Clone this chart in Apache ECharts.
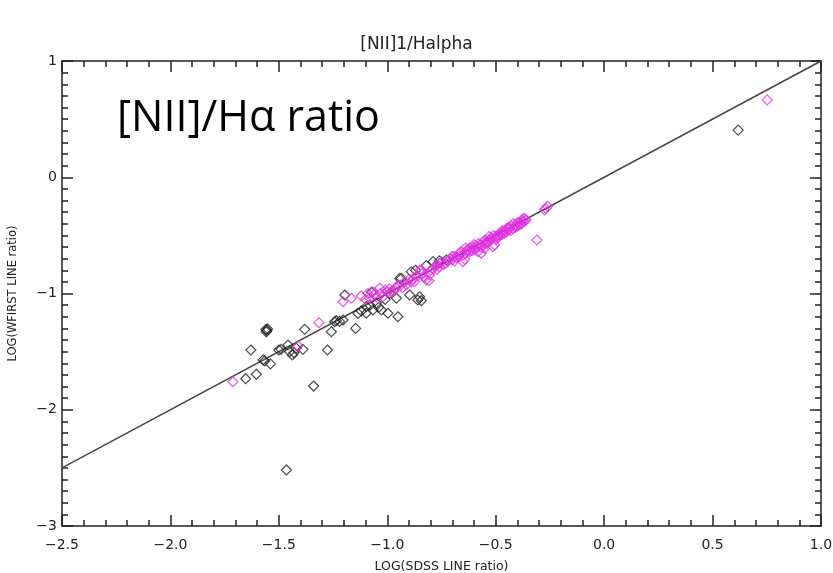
<!DOCTYPE html>
<html>
<head>
<meta charset="utf-8">
<script src="https://cdn.jsdelivr.net/npm/echarts@6/dist/echarts.min.js"></script>
<style>
  html, body { margin: 0; padding: 0; background: #fff; }
  #main { width: 833px; height: 573px; }
</style>
</head>
<body>
<div id="main"></div>
<script>
// log line ratios: [SDSS, WFIRST]
const blackPts = [
  [-1.653, -1.733], [-1.629, -1.486], [-1.604, -1.695], [-1.573, -1.572], [-1.565, -1.58],
  [-1.56, -1.31], [-1.555, -1.32], [-1.552, -1.305], [-1.558, -1.33], [-1.539, -1.606],
  [-1.50, -1.486], [-1.49, -1.48], [-1.465, -2.518], [-1.458, -1.443], [-1.45, -1.50],
  [-1.438, -1.529], [-1.43, -1.51], [-1.42, -1.47], [-1.389, -1.48], [-1.381, -1.308],
  [-1.34, -1.796], [-1.276, -1.486], [-1.258, -1.329], [-1.243, -1.243], [-1.235, -1.234],
  [-1.22, -1.24], [-1.204, -1.228], [-1.196, -1.013], [-1.146, -1.30], [-1.135, -1.171],
  [-1.12, -1.15], [-1.097, -1.17], [-1.097, -1.113], [-1.08, -1.10], [-1.073, -0.99],
  [-1.066, -1.142], [-1.05, -1.08], [-1.04, -1.12], [-1.027, -1.142], [-1.01, -1.05],
  [-0.997, -1.17], [-0.989, -0.998], [-0.958, -1.041], [-0.951, -1.20], [-0.943, -0.87],
  [-0.935, -0.87], [-0.897, -1.013], [-0.889, -0.812], [-0.87, -0.80], [-0.859, -1.056],
  [-0.851, -1.028], [-0.843, -1.062], [-0.82, -0.76], [-0.789, -0.726], [-0.76, -0.72],
  [-0.728, -0.712], [0.618, 0.406]
]
const magentaPts = [
  [-1.712, -1.759], [-1.412, -1.452], [-1.315, -1.251], [-1.204, -1.071], [-1.166, -1.041],
  [-1.12, -1.02], [-1.10, -1.05], [-1.09, -1.00], [-1.066, -0.985], [-1.05, -1.03],
  [-1.035, -0.955], [-1.02, -1.028], [-1.00, -0.99], [-0.981, -0.985], [-0.96, -0.95],
  [-0.94, -0.93], [-0.912, -0.927], [-0.89, -0.90], [-0.874, -0.898], [-0.851, -0.798],
  [-0.843, -0.80], [-0.82, -0.884], [-0.808, -0.89], [-0.805, -0.841], [-0.79, -0.79],
  [-0.774, -0.755], [-0.76, -0.77], [-0.74, -0.75], [-0.72, -0.72], [-0.70, -0.71],
  [-0.69, -0.68], [-0.68, -0.69], [-0.67, -0.66], [-0.651, -0.726], [-0.643, -0.706],
  [-0.64, -0.65], [-0.63, -0.62], [-0.62, -0.64], [-0.605, -0.60], [-0.60, -0.62],
  [-0.59, -0.59], [-0.582, -0.64], [-0.57, -0.58], [-0.566, -0.654], [-0.56, -0.56],
  [-0.55, -0.57], [-0.551, -0.611], [-0.54, -0.55], [-0.53, -0.54], [-0.52, -0.52],
  [-0.513, -0.597], [-0.505, -0.583], [-0.50, -0.51], [-0.49, -0.50], [-0.48, -0.48],
  [-0.47, -0.49], [-0.46, -0.46], [-0.45, -0.47], [-0.44, -0.45], [-0.43, -0.42],
  [-0.42, -0.44], [-0.41, -0.41], [-0.40, -0.42], [-0.39, -0.39], [-0.38, -0.40],
  [-0.371, -0.353], [-0.36, -0.37], [-0.31, -0.54], [-0.275, -0.28], [-0.27, -0.267],
  [-0.26, -0.25], [0.752, 0.665],
  // dense band along the 1:1 line
  [-1.08, -1.04], [-1.06, -1.01], [-1.03, -1.00], [-1.01, -0.97], [-0.99, -0.96],
  [-0.97, -0.98], [-0.95, -0.93], [-0.93, -0.95], [-0.92, -0.90], [-0.90, -0.88],
  [-0.88, -0.87], [-0.86, -0.85], [-0.84, -0.83], [-0.83, -0.86], [-0.80, -0.80],
  [-0.78, -0.77], [-0.77, -0.79], [-0.75, -0.73], [-0.73, -0.74], [-0.71, -0.70],
  [-0.70, -0.68], [-0.67, -0.68], [-0.66, -0.64], [-0.65, -0.67], [-0.63, -0.64],
  [-0.62, -0.61], [-0.61, -0.63], [-0.59, -0.61], [-0.58, -0.57], [-0.57, -0.60],
  [-0.55, -0.54], [-0.54, -0.57], [-0.52, -0.54], [-0.51, -0.50], [-0.50, -0.53],
  [-0.48, -0.50], [-0.47, -0.46], [-0.46, -0.48], [-0.44, -0.43], [-0.43, -0.46],
  [-0.41, -0.43], [-0.40, -0.39], [-0.39, -0.41], [-0.37, -0.38], [-0.365, -0.36],
  [-0.69, -0.72], [-0.64, -0.61], [-0.60, -0.58], [-0.56, -0.59], [-0.53, -0.51],
  [-0.49, -0.52], [-0.45, -0.44], [-0.42, -0.40], [-0.38, -0.37], [-0.76, -0.74]
]
// one-to-one line
const oneToOne = [[-2.5, -2.5], [1.0, 1.0]]

const xTicks = { min: -2.5, max: 1.0, interval: 0.5 }
const yTicks = { min: -3, max: 1, interval: 1 }

const chart = echarts.init(document.getElementById('main'))

const font = 'DejaVu Sans'
const minus = v => String(v).replace('-', '\u2212')
const fmtX = v => minus(v.toFixed(1))

const axisLine = { show: true, onZero: false, lineStyle: { color: '#222', width: 1.5 } }
const tick = { show: true, inside: true, length: 11, lineStyle: { color: '#222', width: 1.5 } }
const minor = (n) => ({ show: true, splitNumber: n, length: 6, lineStyle: { color: '#222', width: 1.5 } })

const option = {
  animation: false,
  backgroundColor: '#fff',
  title: [{
    text: '[NII]1/Halpha',
    left: 'center',
    top: 31,
    textStyle: { fontFamily: font, fontSize: 17, fontWeight: 'normal', color: '#222' }
  }, {
    text: '[NII]/H\u03b1 ratio',
    left: 112,
    top: 92,
    textStyle: { fontFamily: 'Open Sans', fontSize: 43, fontWeight: 'normal', color: '#000' }
  }],
  grid: { left: 62, right: 12, top: 61, bottom: 47, outerBoundsMode: 'none' },
  xAxis: [{
    type: 'value',
    min: xTicks.min, max: xTicks.max, interval: xTicks.interval,
    position: 'bottom',
    name: 'LOG(SDSS LINE ratio)',
    nameLocation: 'middle',
    nameGap: 34,
    nameTextStyle: { fontFamily: font, fontSize: 12.5, color: '#222' },
    axisLine, axisTick: tick, minorTick: minor(5),
    splitLine: { show: false },
    axisLabel: { formatter: fmtX, fontFamily: font, fontSize: 14, color: '#222', margin: 12 }
  }, {
    type: 'value',
    min: xTicks.min, max: xTicks.max, interval: xTicks.interval,
    position: 'top',
    axisLine, axisTick: tick, minorTick: minor(5),
    splitLine: { show: false },
    axisLabel: { show: false }
  }],
  yAxis: [{
    type: 'value',
    min: yTicks.min, max: yTicks.max, interval: yTicks.interval,
    position: 'left',
    name: 'LOG(WFIRST LINE ratio)',
    nameLocation: 'middle',
    nameGap: 43,
    nameTextStyle: { fontFamily: font, fontSize: 11.5, color: '#222' },
    axisLine, axisTick: tick, minorTick: minor(10),
    splitLine: { show: false },
    axisLabel: { formatter: minus, fontFamily: font, fontSize: 14, color: '#222', margin: 5 }
  }, {
    type: 'value',
    min: yTicks.min, max: yTicks.max, interval: yTicks.interval,
    position: 'right',
    axisLine, axisTick: tick, minorTick: minor(10),
    splitLine: { show: false },
    axisLabel: { show: false }
  }],
  series: [{
    type: 'line',
    data: oneToOne,
    symbol: 'none',
    lineStyle: { color: '#444', width: 1.5 },
    z: 1
  }, {
    type: 'scatter',
    data: blackPts,
    symbol: 'diamond',
    symbolSize: 10,
    itemStyle: { color: 'rgba(0,0,0,0)', borderColor: '#222', borderWidth: 1.2 },
    z: 3
  }, {
    type: 'scatter',
    data: magentaPts,
    symbol: 'diamond',
    symbolSize: 10,
    itemStyle: { color: 'rgba(0,0,0,0)', borderColor: '#e030e0', borderWidth: 1.2 },
    z: 4
  }]
}
chart.setOption(option)
</script>
</body>
</html>
